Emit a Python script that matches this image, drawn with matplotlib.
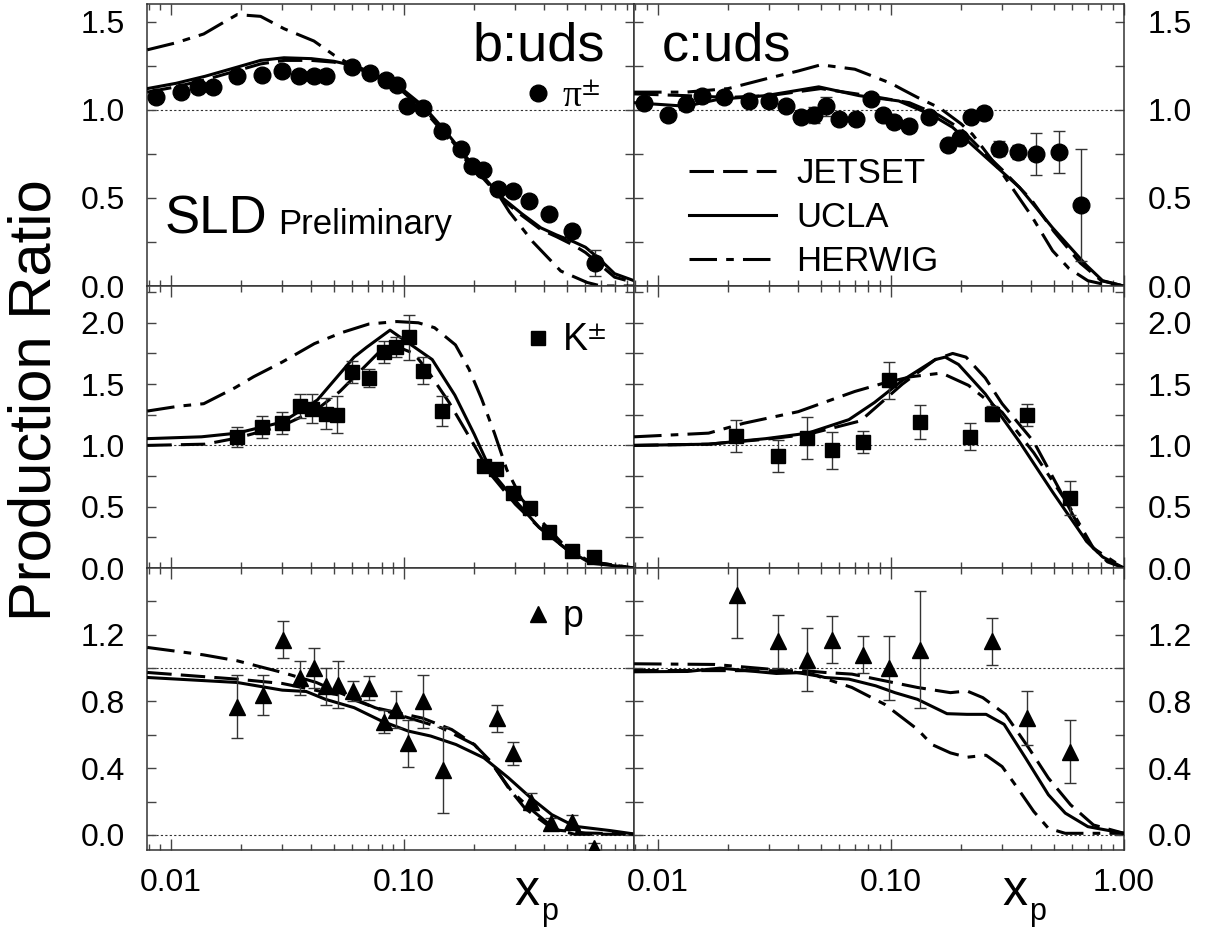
import matplotlib.pyplot as plt
from matplotlib.ticker import FixedLocator, LogLocator, NullFormatter, FormatStrFormatter
from matplotlib.lines import Line2D

plt.rcParams['font.family'] = ['Liberation Sans', 'DejaVu Sans']
plt.rcParams['mathtext.fontset'] = 'stix'

# ---------------- data: SLD b:uds and c:uds production ratios ----------------
# pi+- , b:uds
pi_b_x = [0.0086, 0.0110, 0.0131, 0.0152, 0.0192, 0.0246, 0.0300, 0.0353, 0.0410, 0.0460,
          0.0600, 0.0713, 0.0834, 0.0935, 0.1033, 0.1210, 0.1460, 0.1750, 0.1960, 0.2170,
          0.2520, 0.2920, 0.3440, 0.4200, 0.5240, 0.6590]
pi_b_y = [1.07, 1.10, 1.13, 1.13, 1.19, 1.20, 1.22, 1.19, 1.19, 1.19, 1.24, 1.21, 1.17, 1.14,
          1.02, 1.01, 0.88, 0.78, 0.68, 0.66, 0.55, 0.54, 0.48, 0.41, 0.31, 0.13]
pi_b_err = [0.02, 0.02, 0.02, 0.02, 0.02, 0.02, 0.02, 0.02, 0.02, 0.035, 0.02, 0.02, 0.02, 0.02,
            0.02, 0.02, 0.02, 0.02, 0.02, 0.02, 0.02, 0.02, 0.02, 0.03, 0.035, 0.075]

# pi+- , c:uds
pi_c_x = [0.0087, 0.0110, 0.0132, 0.0155, 0.0192, 0.0246, 0.0300, 0.0354, 0.0410, 0.0468,
          0.0526, 0.0600, 0.0708, 0.0820, 0.0920, 0.1033, 0.1200, 0.1460, 0.1750, 0.1970,
          0.2210, 0.2520, 0.2920, 0.3500, 0.4200, 0.5280, 0.6550]
pi_c_y = [1.04, 0.97, 1.03, 1.08, 1.07, 1.05, 1.05, 1.02, 0.96, 0.97, 1.02, 0.95, 0.95, 1.06,
          0.97, 0.93, 0.91, 0.96, 0.80, 0.84, 0.96, 0.98, 0.78, 0.76, 0.75, 0.76, 0.46]
pi_c_err = [0.02, 0.02, 0.02, 0.02, 0.02, 0.02, 0.02, 0.02, 0.035, 0.045, 0.055, 0.02, 0.02, 0.03,
            0.03, 0.025, 0.02, 0.02, 0.03, 0.035, 0.035, 0.035, 0.04, 0.04, 0.12, 0.12, 0.32]

# K+- , b:uds
K_b_x = [0.0192, 0.0246, 0.0300, 0.0359, 0.0403, 0.0460, 0.0516, 0.0600, 0.0706, 0.0820,
         0.0922, 0.1050, 0.1200, 0.1460, 0.2200, 0.2490, 0.2920, 0.3480, 0.4200, 0.5240, 0.6500]
K_b_y = [1.07, 1.15, 1.18, 1.32, 1.30, 1.26, 1.25, 1.60, 1.55, 1.76, 1.80, 1.88, 1.61, 1.28,
         0.83, 0.81, 0.61, 0.49, 0.29, 0.14, 0.09]
K_b_err = [0.08, 0.09, 0.09, 0.10, 0.12, 0.13, 0.15, 0.09, 0.07, 0.09, 0.08, 0.18, 0.11, 0.12,
           0.03, 0.03, 0.03, 0.03, 0.02, 0.02, 0.02]

# K+- , c:uds
K_c_x = [0.0217, 0.0329, 0.0435, 0.0561, 0.0760, 0.0984, 0.1330, 0.2180, 0.2710, 0.3830, 0.5870]
K_c_y = [1.08, 0.91, 1.06, 0.96, 1.03, 1.53, 1.19, 1.07, 1.26, 1.25, 0.57]
K_c_err = [0.13, 0.13, 0.17, 0.15, 0.09, 0.15, 0.14, 0.11, 0.06, 0.09, 0.14]

# p , b:uds
p_b_x = [0.0192, 0.0248, 0.0302, 0.0357, 0.0410, 0.0463, 0.0520, 0.0603, 0.0710, 0.0821,
         0.0925, 0.1037, 0.1210, 0.1470, 0.2510, 0.2940, 0.3500, 0.4250, 0.5270, 0.6500]
p_b_y = [0.77, 0.84, 1.17, 0.94, 1.00, 0.89, 0.90, 0.86, 0.88, 0.68, 0.75, 0.55, 0.80, 0.39,
         0.70, 0.49, 0.20, 0.07, 0.08, -0.08]
p_b_err = [0.19, 0.12, 0.11, 0.10, 0.12, 0.11, 0.14, 0.06, 0.07, 0.07, 0.11, 0.14, 0.16, 0.26,
           0.08, 0.07, 0.05, 0.03, 0.04, 0.03]

# p , c:uds
p_c_x = [0.0218, 0.0329, 0.0435, 0.0558, 0.0760, 0.0984, 0.1330, 0.2710, 0.3830, 0.5870]
p_c_y = [1.44, 1.16, 1.05, 1.17, 1.08, 1.00, 1.11, 1.16, 0.70, 0.50]
p_c_err = [0.26, 0.16, 0.19, 0.14, 0.11, 0.19, 0.35, 0.14, 0.16, 0.19]

# ---------------- model curves ----------------
jetset_pi_b_x = [0.0079, 0.0105, 0.014, 0.019, 0.0242, 0.0305, 0.04, 0.05, 0.063, 0.075, 0.0935,
                 0.121, 0.15, 0.196, 0.264, 0.32, 0.386, 0.45, 0.536, 0.6, 0.68, 0.8, 0.97]
jetset_pi_b_y = [1.10, 1.13, 1.17, 1.22, 1.26, 1.28, 1.28, 1.27, 1.24, 1.19, 1.13, 1.01, 0.87,
                 0.68, 0.49, 0.40, 0.32, 0.28, 0.23, 0.19, 0.13, 0.05, 0.02]
ucla_pi_b_x = jetset_pi_b_x
ucla_pi_b_y = [1.12, 1.15, 1.19, 1.24, 1.28, 1.295, 1.29, 1.275, 1.245, 1.20, 1.14, 1.02, 0.88,
               0.69, 0.50, 0.41, 0.33, 0.29, 0.25, 0.22, 0.16, 0.07, 0.03]
herwig_pi_b_x = [0.0079, 0.0105, 0.0138, 0.0165, 0.0192, 0.0242, 0.0305, 0.041, 0.05, 0.06, 0.075,
                 0.0935, 0.121, 0.15, 0.196, 0.24, 0.283, 0.357, 0.47, 0.61, 0.7, 0.97]
herwig_pi_b_y = [1.34, 1.38, 1.43, 1.49, 1.54, 1.53, 1.46, 1.39, 1.31, 1.25, 1.19, 1.13, 1.00,
                 0.86, 0.67, 0.57, 0.42, 0.25, 0.085, 0.02, 0.0, 0.0]

jetset_pi_c_x = [0.0079, 0.0132, 0.02, 0.03, 0.05, 0.08, 0.12, 0.16, 0.2, 0.25, 0.3, 0.4, 0.5,
                 0.65, 0.8, 1.0]
jetset_pi_c_y = [1.09, 1.08, 1.07, 1.08, 1.12, 1.08, 1.04, 0.97, 0.89, 0.76, 0.66, 0.49, 0.31,
                 0.13, 0.03, 0.0]
ucla_pi_c_x = [0.0079, 0.0132, 0.0183, 0.029, 0.049, 0.073, 0.108, 0.150, 0.184, 0.2555, 0.356,
               0.494, 0.687, 0.81, 1.0]
ucla_pi_c_y = [1.04, 1.02, 1.06, 1.08, 1.13, 1.08, 1.05, 0.97, 0.90, 0.73, 0.56, 0.33, 0.12,
               0.03, 0.0]
herwig_pi_c_x = [0.0079, 0.0132, 0.02, 0.03, 0.04, 0.05, 0.07, 0.1, 0.112, 0.13, 0.162, 0.2,
                 0.224, 0.3, 0.4, 0.494, 0.58, 0.7, 0.85, 1.0]
herwig_pi_c_y = [1.10, 1.10, 1.12, 1.18, 1.22, 1.255, 1.23, 1.15, 1.115, 1.07, 1.01, 0.92, 0.86,
                 0.64, 0.40, 0.20, 0.10, 0.03, 0.005, 0.0]

jetset_K_b_x = [0.0079, 0.014, 0.0192, 0.030, 0.042, 0.053, 0.07, 0.078, 0.0948, 0.11, 0.125,
                0.156, 0.2, 0.236, 0.30, 0.38, 0.50, 0.64, 0.97]
jetset_K_b_y = [1.0, 1.01, 1.06, 1.16, 1.29, 1.44, 1.67, 1.76, 1.80, 1.75, 1.62, 1.35, 1.0,
                0.76, 0.52, 0.33, 0.15, 0.05, 0.0]
ucla_K_b_x = [0.0079, 0.0135, 0.0192, 0.030, 0.0424, 0.061, 0.069, 0.087, 0.1, 0.132, 0.165,
              0.20, 0.236, 0.30, 0.38, 0.50, 0.63, 0.97]
ucla_K_b_y = [1.055, 1.07, 1.10, 1.19, 1.37, 1.72, 1.80, 1.94, 1.86, 1.70, 1.41, 1.09, 0.79,
              0.55, 0.33, 0.15, 0.04, 0.0]
herwig_K_b_x = [0.0079, 0.0108, 0.0138, 0.0188, 0.0226, 0.030, 0.0412, 0.054, 0.0706, 0.093,
                0.115, 0.135, 0.166, 0.19, 0.215, 0.244, 0.276, 0.32, 0.38, 0.50, 0.63, 0.97]
herwig_K_b_y = [1.28, 1.32, 1.34, 1.47, 1.56, 1.68, 1.83, 1.92, 1.99, 2.01, 2.0, 1.96, 1.82,
                1.62, 1.38, 1.10, 0.80, 0.56, 0.40, 0.16, 0.05, 0.0]

jetset_K_c_x = [0.0079, 0.0165, 0.029, 0.044, 0.074, 0.112, 0.155, 0.184, 0.21, 0.254, 0.30,
                0.41, 0.55, 0.69, 0.85, 1.0]
jetset_K_c_y = [1.0, 1.01, 1.05, 1.09, 1.20, 1.50, 1.70, 1.75, 1.72, 1.55, 1.34, 1.03, 0.58,
                0.22, 0.05, 0.0]
ucla_K_c_x = [0.0079, 0.0165, 0.029, 0.044, 0.066, 0.085, 0.112, 0.155, 0.171, 0.195, 0.254,
              0.356, 0.494, 0.69, 0.81, 1.0]
ucla_K_c_y = [1.0, 1.01, 1.055, 1.10, 1.21, 1.35, 1.53, 1.70, 1.72, 1.66, 1.42, 1.03, 0.62,
              0.22, 0.09, 0.0]
herwig_K_c_x = [0.0079, 0.0165, 0.0233, 0.04, 0.07, 0.094, 0.122, 0.165, 0.215, 0.30, 0.41,
                0.58, 0.74, 1.0]
herwig_K_c_y = [1.07, 1.10, 1.18, 1.275, 1.44, 1.51, 1.56, 1.59, 1.49, 1.27, 0.94, 0.51, 0.16, 0.0]

jetset_p_b_x = [0.0079, 0.0192, 0.030, 0.055, 0.075, 0.12, 0.16, 0.20, 0.235, 0.28, 0.33, 0.43,
                0.54, 0.97]
jetset_p_b_y = [0.974, 0.934, 0.908, 0.833, 0.763, 0.70, 0.632, 0.542, 0.442, 0.283, 0.16, 0.04,
                0.004, 0.005]
ucla_p_b_x = [0.0079, 0.0192, 0.030, 0.038, 0.046, 0.061, 0.08, 0.104, 0.13, 0.167, 0.22, 0.28,
              0.35, 0.43, 0.54, 0.77, 0.97]
ucla_p_b_y = [0.944, 0.914, 0.868, 0.86, 0.813, 0.763, 0.683, 0.623, 0.593, 0.542, 0.462, 0.343,
              0.222, 0.122, 0.052, 0.026, 0.006]
herwig_p_b_x = [0.0079, 0.0137, 0.0192, 0.030, 0.042, 0.055, 0.075, 0.104, 0.144, 0.20, 0.24,
                0.29, 0.36, 0.45, 0.60, 0.97]
herwig_p_b_y = [1.124, 1.08, 1.044, 0.974, 0.914, 0.843, 0.763, 0.703, 0.643, 0.542, 0.42, 0.26,
                0.14, 0.03, 0.012, 0.005]

jetset_p_c_x = [0.0079, 0.043, 0.052, 0.068, 0.094, 0.13, 0.18, 0.212, 0.248, 0.31, 0.39, 0.474,
                0.59, 0.74, 1.0]
jetset_p_c_y = [0.986, 0.984, 0.974, 0.964, 0.924, 0.884, 0.853, 0.863, 0.823, 0.723, 0.522,
                0.341, 0.181, 0.06, 0.01]
ucla_p_c_x = [0.0079, 0.0134, 0.0185, 0.0322, 0.043, 0.052, 0.066, 0.086, 0.104, 0.13, 0.174,
              0.212, 0.256, 0.306, 0.378, 0.474, 0.56, 0.70, 1.0]
ucla_p_c_y = [0.978, 0.98, 1.0, 0.968, 0.974, 0.944, 0.934, 0.894, 0.853, 0.813, 0.727, 0.723,
              0.723, 0.663, 0.462, 0.241, 0.131, 0.05, 0.01]
herwig_p_c_x = [0.0079, 0.0175, 0.0349, 0.048, 0.068, 0.094, 0.13, 0.15, 0.18, 0.212, 0.256,
                0.30, 0.35, 0.41, 0.474, 0.56, 1.0]
herwig_p_c_y = [1.026, 1.022, 0.986, 0.954, 0.884, 0.783, 0.633, 0.542, 0.492, 0.466, 0.478,
                0.41, 0.28, 0.141, 0.04, 0.01, 0.01]

model_names = ['JETSET', 'UCLA', 'HERWIG']
x_ticks = [0.01, 0.1, 1.0]
x_tick_labels = ['0.01', '0.10', '1.00']

# y ticks per row: labelled ticks and the unlabelled ones between them
ylims = [(0.0, 1.6), (0.0, 2.3), (-0.09, 1.6)]
y_major = [[0.0, 0.5, 1.0, 1.5], [0.0, 0.5, 1.0, 1.5, 2.0], [0.0, 0.4, 0.8, 1.2]]
y_minor = [[0.25, 0.75, 1.25], [0.25, 0.75, 1.25, 1.75, 2.25], [0.2, 0.6, 1.0, 1.4]]

# ---------------- styles ----------------
styles = {
    'JETSET': dict(ls=(0, (8, 3)), lw=2.2),
    'UCLA': dict(ls='-', lw=2.2),
    'HERWIG': dict(ls=(0, (9, 3, 2.5, 3)), lw=2.2),
}

panels = [
    (0, 0, (pi_b_x, pi_b_y, pi_b_err), 'o', 12,
     [(jetset_pi_b_x, jetset_pi_b_y), (ucla_pi_b_x, ucla_pi_b_y), (herwig_pi_b_x, herwig_pi_b_y)]),
    (0, 1, (pi_c_x, pi_c_y, pi_c_err), 'o', 12,
     [(jetset_pi_c_x, jetset_pi_c_y), (ucla_pi_c_x, ucla_pi_c_y), (herwig_pi_c_x, herwig_pi_c_y)]),
    (1, 0, (K_b_x, K_b_y, K_b_err), 's', 10.5,
     [(jetset_K_b_x, jetset_K_b_y), (ucla_K_b_x, ucla_K_b_y), (herwig_K_b_x, herwig_K_b_y)]),
    (1, 1, (K_c_x, K_c_y, K_c_err), 's', 10.5,
     [(jetset_K_c_x, jetset_K_c_y), (ucla_K_c_x, ucla_K_c_y), (herwig_K_c_x, herwig_K_c_y)]),
    (2, 0, (p_b_x, p_b_y, p_b_err), '^', 12,
     [(jetset_p_b_x, jetset_p_b_y), (ucla_p_b_x, ucla_p_b_y), (herwig_p_b_x, herwig_p_b_y)]),
    (2, 1, (p_c_x, p_c_y, p_c_err), '^', 12,
     [(jetset_p_c_x, jetset_p_c_y), (ucla_p_c_x, ucla_p_c_y), (herwig_p_c_x, herwig_p_c_y)]),
]

fig = plt.figure(figsize=(12.16, 9.31), dpi=100)
gs = fig.add_gridspec(3, 2, left=0.1211, right=0.9243, top=0.9957, bottom=0.0870,
                      wspace=0, hspace=0, width_ratios=[2.089, 2.102])
axes = {}
for row, col, (dx, dy, de), mk, ms, curves in panels:
    ax = fig.add_subplot(gs[row, col])
    axes[(row, col)] = ax
    ax.set_xscale('log')
    ax.set_xlim(0.0079, 0.97 if col == 0 else 1.0)
    ax.set_ylim(*ylims[row])

    ax.axhline(1.0, color='#333333', lw=0.8, ls=(0, (2, 2)), zorder=1)
    if row == 2:
        ax.axhline(0.0, color='#333333', lw=0.8, ls=(0, (2, 2)), zorder=1)

    for name, (cx, cy) in zip(model_names, curves):
        ax.plot(cx, cy, color='black', label=name, zorder=3, **styles[name])

    ax.errorbar(dx, dy, yerr=de, fmt=mk, ms=ms, color='black', ecolor='#333333',
                elinewidth=1.0, capsize=4.5, capthick=1.0, zorder=4)

    if col == 0:
        ax.xaxis.set_major_locator(FixedLocator(x_ticks[:2]))
        ax.set_xticklabels(x_tick_labels[:2])
    else:
        ax.xaxis.set_major_locator(FixedLocator(x_ticks))
        ax.set_xticklabels(x_tick_labels)
    ax.xaxis.set_minor_locator(LogLocator(base=10, subs=range(2, 10)))
    ax.xaxis.set_minor_formatter(NullFormatter())
    ax.yaxis.set_major_locator(FixedLocator(y_major[row]))
    ax.yaxis.set_minor_locator(FixedLocator(y_minor[row]))
    ax.yaxis.set_major_formatter(FormatStrFormatter('%.1f'))

    ax.tick_params(which='both', direction='in', top=True, bottom=True, left=True, right=True,
                   color='#444444', width=1.0, labelsize=23)
    ax.tick_params(axis='y', which='both', length=6.5, pad=16)
    ax.tick_params(axis='x', which='major', length=8, pad=13)
    ax.tick_params(axis='x', which='minor', length=4.5)
    ax.tick_params(labelbottom=(row == 2), labelleft=(col == 0), labelright=(col == 1))
    if col == 1:
        ax.tick_params(axis='y', pad=17)
    for sp in ax.spines.values():
        sp.set_color('#333333')
        sp.set_linewidth(1.1)

# panel captions
ax = axes[(0, 0)]
ax.text(0.940, 0.80, 'b:uds', transform=ax.transAxes, ha='right', va='baseline', fontsize=39)
ax.text(0.036, 0.185, 'SLD', transform=ax.transAxes, ha='left', va='baseline', fontsize=38)
ax.text(0.268, 0.185, 'Preliminary', transform=ax.transAxes, ha='left', va='baseline', fontsize=25)
ax = axes[(0, 1)]
ax.text(0.057, 0.80, 'c:uds', transform=ax.transAxes, ha='left', va='baseline', fontsize=39)

# particle keys
keys = [((0, 0), 'o', 12, r'π$^{\pm}$', 0.669, 'Liberation Serif'),
        ((1, 0), 's', 10.5, r'K$^{\pm}$', 0.805, 'Liberation Sans'),
        ((2, 0), '^', 12, 'p', 0.827, 'Liberation Sans')]
for pos, mk, ms, lab, yk, fam in keys:
    h = Line2D([], [], marker=mk, ms=ms, ls='none', color='black')
    axes[pos].legend([h], [lab], loc='center left', bbox_to_anchor=(0.772, yk), frameon=False,
                     prop={'family': [fam, 'DejaVu Sans'], 'size': 27}, handlelength=0.8,
                     handletextpad=0.25, borderpad=0, borderaxespad=0)

# model legend
ax = axes[(0, 1)]
handles = [Line2D([], [], color='black', **styles[n]) for n in model_names]
ax.legend(handles, model_names, loc='center left', bbox_to_anchor=(0.1125, 0.243),
          frameon=False, fontsize=25, handlelength=2.5, handletextpad=0.58,
          labelspacing=0.32, borderpad=0, borderaxespad=0)

# axis titles
fig.text(0.029, 0.5704, 'Production Ratio', rotation=90, ha='center', va='center', fontsize=43)
for xl in (514 / 1216, 1002 / 1216):
    fig.text(xl, 0.0279, 'x', ha='left', va='baseline', fontsize=36)
    fig.text(xl + 27 / 1216, 0.0118, 'p', ha='left', va='baseline', fontsize=22)

fig.savefig('out.png', dpi=100)
